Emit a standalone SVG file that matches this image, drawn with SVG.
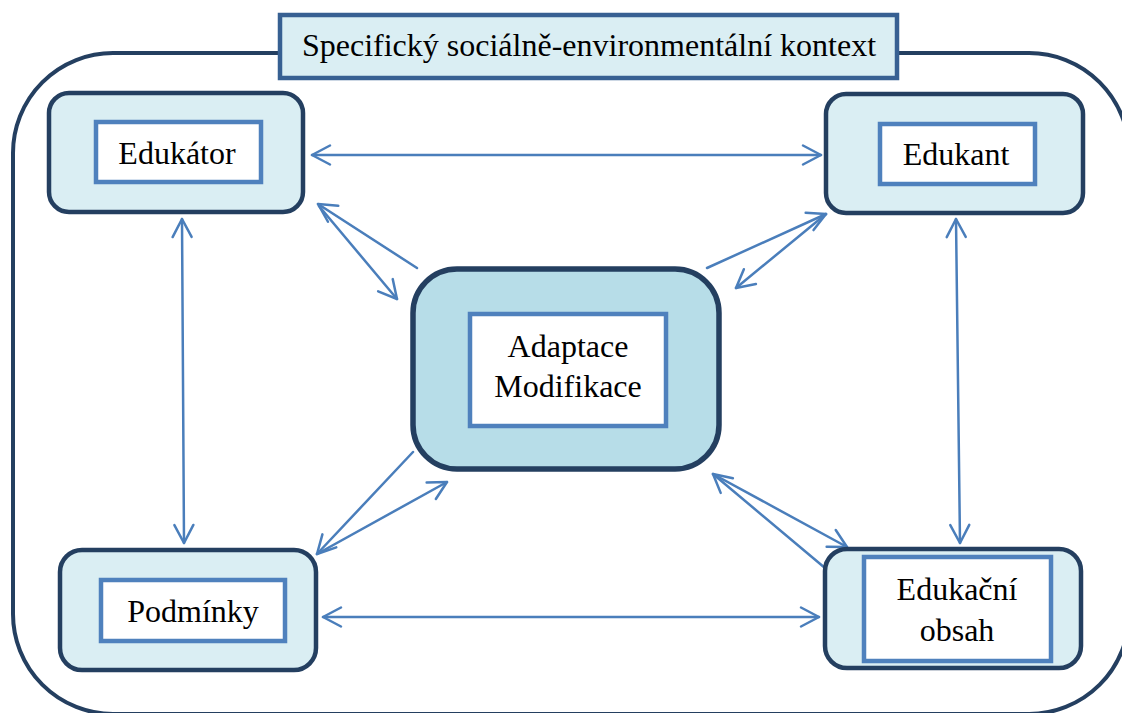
<svg xmlns="http://www.w3.org/2000/svg" width="1122" height="713" viewBox="0 0 1122 713">
<defs>
<style>
.frame{fill:none;stroke:#243F60;stroke-width:4}
.outer{fill:#DAEEF3;stroke:#243F60;stroke-width:4.5}
.center{fill:#B7DDE8;stroke:#243F60;stroke-width:5.5}
.inner{fill:#FFFFFF;stroke:#4F81BD;stroke-width:4.5}
.title{fill:#DAEEF3;stroke:#376092;stroke-width:4.5}
.t{font-size:32px;fill:#000;text-anchor:middle}
.c{fill:none;stroke:#4A7EBB;stroke-width:2.5;stroke-linecap:round}
</style>
<marker id="ah" viewBox="-22 -13 26 26" refX="0" refY="0" markerWidth="26" markerHeight="26" markerUnits="userSpaceOnUse" orient="auto-start-reverse">
<path d="M-18,-9.5 L0,0 L-18,9.5" fill="none" stroke="#4A7EBB" stroke-width="2.5" stroke-linecap="round" stroke-linejoin="round"/>
</marker>
</defs>
<rect id="context-frame" class="frame" x="13" y="53" width="1116" height="661" rx="100" ry="100"/>
<g font-family="'Liberation Serif', 'Times New Roman', serif">
<g id="title">
<rect class="title" x="280" y="15" width="617" height="63"/>
<text class="t" x="589" y="56">Specifický sociálně-environmentální kontext</text>
</g>
<g id="connectors">
<line class="c" x1="312" y1="155" x2="821" y2="155" marker-start="url(#ah)" marker-end="url(#ah)"/>
<line class="c" x1="323" y1="617" x2="819" y2="617" marker-start="url(#ah)" marker-end="url(#ah)"/>
<line class="c" x1="182" y1="219" x2="184" y2="543" marker-start="url(#ah)" marker-end="url(#ah)"/>
<line class="c" x1="956" y1="219" x2="960" y2="543" marker-start="url(#ah)" marker-end="url(#ah)"/>
<line class="c" x1="417" y1="268" x2="318" y2="204" marker-end="url(#ah)"/>
<line class="c" x1="319" y1="206" x2="397" y2="299" marker-end="url(#ah)"/>
<line class="c" x1="707" y1="268" x2="826" y2="214" marker-end="url(#ah)"/>
<line class="c" x1="826" y1="214" x2="736" y2="288" marker-end="url(#ah)"/>
<line class="c" x1="413" y1="452" x2="317" y2="554" marker-end="url(#ah)"/>
<line class="c" x1="317" y1="554" x2="447" y2="482" marker-end="url(#ah)"/>
<line class="c" x1="825" y1="568" x2="713" y2="474" marker-end="url(#ah)"/>
<line class="c" x1="713" y1="474" x2="847" y2="547" marker-end="url(#ah)"/>
</g>
<g id="edukator">
<rect class="outer" x="49" y="93" width="254" height="119" rx="20" ry="20"/>
<rect class="inner" x="96" y="122" width="165" height="60"/>
<text class="t" x="177" y="164">Edukátor</text>
</g>
<g id="edukant">
<rect class="outer" x="826" y="94" width="257" height="119" rx="20" ry="20"/>
<rect class="inner" x="880" y="124" width="155" height="60"/>
<text class="t" x="956" y="165">Edukant</text>
</g>
<g id="adaptace">
<rect class="center" x="413" y="269" width="306" height="200" rx="44" ry="44"/>
<rect class="inner" x="470" y="314" width="196" height="112"/>
<text class="t" x="568" y="357">Adaptace</text>
<text class="t" x="568" y="397">Modifikace</text>
</g>
<g id="podminky">
<rect class="outer" x="60" y="550" width="256" height="120" rx="22" ry="22"/>
<rect class="inner" x="101" y="580" width="184" height="61"/>
<text class="t" x="193" y="622">Podmínky</text>
</g>
<g id="edukacni-obsah">
<rect class="outer" x="825" y="549" width="256" height="119" rx="22" ry="22"/>
<rect class="inner" x="864" y="557" width="187" height="104"/>
<text class="t" x="957" y="600">Edukační</text>
<text class="t" x="957" y="641">obsah</text>
</g>
</g>
</svg>
